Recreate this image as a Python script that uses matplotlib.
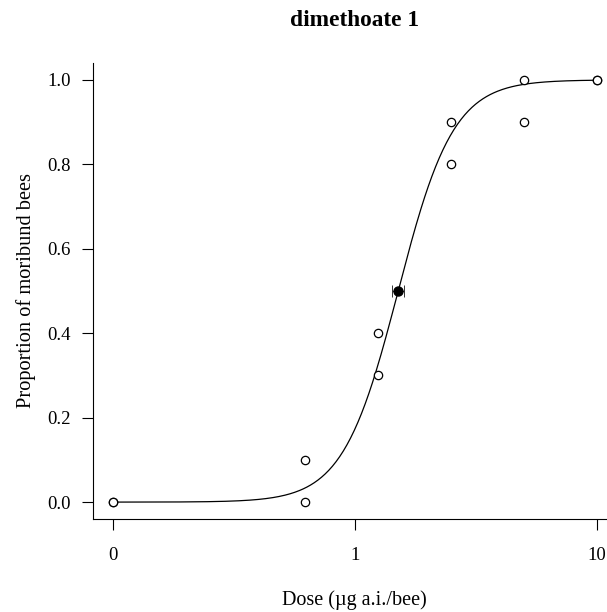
import numpy as np
import matplotlib
matplotlib.use("Agg")
import matplotlib.pyplot as plt

plt.rcParams['font.family'] = ['Liberation Serif', 'DejaVu Serif']

# observed proportions (dose 0 is drawn at the axis break, 0.1)
dose = [0, 0, 0.625, 0.625, 1.25, 1.25, 2.5, 2.5, 5, 5, 10, 10]
prop = [0.0, 0.0, 0.1, 0.0, 0.4, 0.3, 0.9, 0.8, 1.0, 0.9, 1.0, 1.0]

# fitted log-logistic model
ed50 = 1.51
ed50_lo = 1.43
ed50_hi = 1.59
slope = 3.8

xticks = [0.1, 1, 10]
xticklabels = ["0", "1", "10"]
yticks = [0.0, 0.2, 0.4, 0.6, 0.8, 1.0]

W, H = 607, 612
fig = plt.figure(figsize=(W / 100, H / 100), dpi=100)
ax = fig.add_axes([93.3 / W, (H - 519) / H, (616.4 - 93.3) / W, (519 - 63) / H])

xplot = [d if d > 0 else 0.1 for d in dose]

xx = np.logspace(-1, 1, 400)
yy = 1 / (1 + (xx / ed50) ** (-slope))
ax.plot(xx, yy, color="black", lw=0.9)

ax.plot(xplot, prop, "o", mfc="white", mec="black", ms=6, mew=0.9, ls="none")
ax.errorbar([ed50], [0.5], xerr=[[ed50 - ed50_lo], [ed50_hi - ed50]],
            fmt="o", color="black", ms=6.5, capsize=4.5, elinewidth=0.7,
            capthick=0.7, ecolor="#333333")

ax.set_xscale("log")
ax.set_xlim(10 ** -1.08, 10 ** 1.08)
ax.set_ylim(-0.04, 1.04)
ax.set_xticks(xticks)
ax.set_xticklabels(xticklabels)
ax.minorticks_off()
ax.set_yticks(yticks)
ax.set_yticklabels([f"{v:.1f}" for v in yticks])

for s in ["top", "right"]:
    ax.spines[s].set_visible(False)
for s in ["left", "bottom"]:
    ax.spines[s].set_linewidth(0.8)
ax.tick_params(direction="out", length=8, width=0.8, labelsize=13.5)
ax.tick_params(axis="x", pad=12)
ax.tick_params(axis="y", pad=8)

ax.set_xlabel("Dose (µg a.i./bee)", fontsize=14.5, labelpad=19)
ax.set_ylabel("Proportion of moribund bees", fontsize=14.7, labelpad=8)
fig.text(354.5 / W, 1 - 21 / H, "dimethoate 1", ha="center", va="center",
         fontsize=16.8, fontweight="bold")

fig.savefig("out.png", dpi=100)
